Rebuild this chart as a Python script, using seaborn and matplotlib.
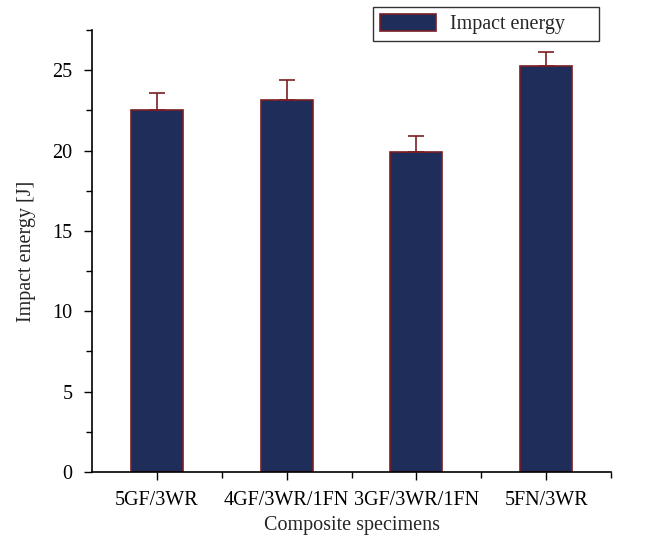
import matplotlib
matplotlib.use("Agg")
import matplotlib.pyplot as plt
import seaborn as sns
import pandas as pd
import numpy as np
from matplotlib.ticker import MultipleLocator, FixedLocator

categories = ["5GF/3WR", "4GF/3WR/1FN", "3GF/3WR/1FN", "5FN/3WR"]
impact_energy = [22.55, 23.12, 19.9, 25.25]
impact_error = [1.06, 1.25, 0.98, 0.87]

sns.set_theme(style="ticks")
plt.rcParams['font.family'] = ['Liberation Serif', 'DejaVu Serif']
plt.rcParams['font.size'] = 14.5

df = pd.DataFrame({"Composite specimens": categories, "Impact energy": impact_energy})

fig = plt.figure(figsize=(6.52, 5.40), dpi=100)
ax = fig.add_axes([92/652, 68/540, 519/652, 442/540])

fill = "#1f2d5a"
edge = "#7a1f24"
sns.barplot(data=df, x="Composite specimens", y="Impact energy", ax=ax,
            color=fill, edgecolor=edge, linewidth=1.2, width=0.4,
            saturation=1, label="Impact energy")
ax.errorbar(np.arange(len(categories)), impact_energy,
            yerr=[np.zeros(len(categories)), impact_error],
            fmt="none", ecolor=edge, elinewidth=1.2, capsize=6, capthick=1.2)

ax.set_xlim(-0.5, 3.5)
ax.set_ylim(0, 27.5)
ax.yaxis.set_major_locator(MultipleLocator(5))
ax.yaxis.set_minor_locator(MultipleLocator(2.5))
ax.xaxis.set_minor_locator(FixedLocator([0.5, 1.5, 2.5, 3.5]))
ax.tick_params(which="both", direction="out", colors="black", labelsize=14.5)
ax.tick_params(which="major", length=6, width=1)
ax.tick_params(which="minor", length=4, width=1)
ax.tick_params(axis="x", which="major", pad=8)
ax.tick_params(axis="y", which="major", pad=8)
for s in ["top", "right"]:
    ax.spines[s].set_visible(False)
for s in ["left", "bottom"]:
    ax.spines[s].set_color("black")
    ax.spines[s].set_linewidth(1.2)
ax.set_xlabel("Composite specimens", fontsize=14.5, labelpad=4)
ax.set_ylabel("Impact energy [J]", fontsize=14.5, labelpad=12)

leg = ax.legend(loc="upper left",
                bbox_to_anchor=(373/652, 1 - 42/540, 226/652, 35/540),
                bbox_transform=fig.transFigure, borderaxespad=0, mode="expand",
                frameon=True, fancybox=False,
                fontsize=14.5, handlelength=2.8, handleheight=0.9,
                borderpad=0.35, handletextpad=0.65)
leg.get_frame().set_edgecolor("black")
leg.get_frame().set_linewidth(1.0)

fig.savefig("out.png", dpi=100)
